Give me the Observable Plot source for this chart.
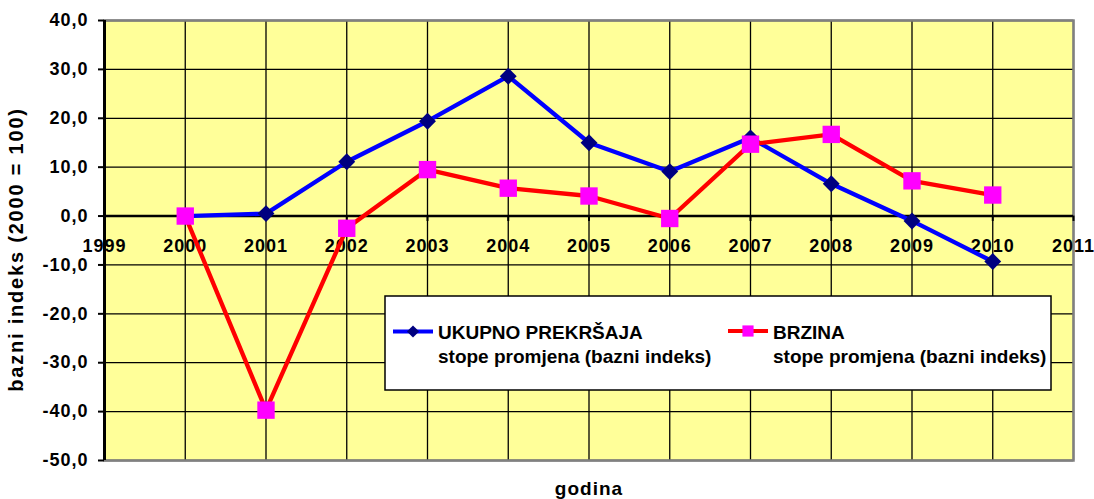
<!DOCTYPE html>
<html>
<head>
<meta charset="utf-8">
<script src="https://cdn.jsdelivr.net/npm/d3@7"></script>
<script src="https://cdn.jsdelivr.net/npm/@observablehq/plot@0.6"></script>
<style>
  html, body { margin: 0; padding: 0; background: white; }
  #chart { position: relative; width: 1094px; height: 499px; }
</style>
</head>
<body>
<div id="chart"></div>
<script>
// ---- data ----
const years = [2000, 2001, 2002, 2003, 2004, 2005, 2006, 2007, 2008, 2009, 2010];
const ukupno = [0, 0.5, 11.1, 19.4, 28.6, 15.0, 9.1, 16.0, 6.6, -1.0, -9.3];
const brzina = [0, -39.7, -2.5, 9.5, 5.7, 4.1, -0.5, 14.7, 16.7, 7.2, 4.3];
const xTicks = [1999, 2000, 2001, 2002, 2003, 2004, 2005, 2006, 2007, 2008, 2009, 2010, 2011];
const yTicks = [-50, -40, -30, -20, -10, 0, 10, 20, 30, 40];
const seriesNames = ["UKUPNO PREKRŠAJA", "BRZINA"];
const seriesSub = "stope promjena (bazni indeks)";
const yTitle = "bazni indeks (2000 = 100)";
const xTitle = "godina";

const rowsU = years.map((y, i) => ({year: y, value: ukupno[i]}));
const rowsB = years.map((y, i) => ({year: y, value: brzina[i]}));
const fmt = d => d.toFixed(1).replace(".", ",");

const font = "'Liberation Sans', Arial, sans-serif";

const chart = Plot.plot({
  width: 1094,
  height: 499,
  marginLeft: 104,
  marginRight: 21,
  marginTop: 20,
  marginBottom: 39,
  style: {fontFamily: font, background: "white", color: "black"},
  x: {domain: [1999, 2011], axis: null},
  y: {domain: [-50, 40], axis: null},
  marks: [
    Plot.frame({fill: "#FFFF99", stroke: null}),
    Plot.gridX(xTicks, {stroke: "black", strokeOpacity: 1, strokeWidth: 1.3}),
    Plot.gridY(yTicks, {stroke: "black", strokeOpacity: 1, strokeWidth: 1.3}),
    Plot.frame({stroke: "#808080", strokeWidth: 2.5}),
    Plot.ruleX([1999], {stroke: "black", strokeWidth: 3}),
    Plot.ruleY([0], {stroke: "black", strokeWidth: 2.5}),
    Plot.ruleX(xTicks, {x: d => d, y1: 0, y2: -1.1, stroke: "black", strokeWidth: 2}),
    Plot.axisY(yTicks, {
      anchor: "left", tickSize: 6, tickPadding: 10, strokeWidth: 2,
      tickFormat: fmt, fontSize: 18, fontWeight: "bold", label: null
    }),
    Plot.text(xTicks, {
      x: d => d, y: () => 0, text: d => String(d), dy: 30,
      fontSize: 18, fontWeight: "bold", fill: "black"
    }),
    Plot.text([yTitle], {
      frameAnchor: "left", textAnchor: "middle", lineAnchor: "middle",
      dx: -88, dy: 9, rotate: -90,
      fontSize: 20, fontWeight: "bold", fill: "black"
    }),
    Plot.text([xTitle], {
      frameAnchor: "bottom", textAnchor: "middle", lineAnchor: "middle",
      dy: 28, fontSize: 19, fontWeight: "bold", fill: "black"
    }),
    Plot.line(rowsU, {x: "year", y: "value", stroke: "#0000FF", strokeWidth: 4.3}),
    Plot.dot(rowsU, {x: "year", y: "value", symbol: "diamond2", r: 7.6, fill: "#000080", stroke: null}),
    Plot.line(rowsB, {x: "year", y: "value", stroke: "#FF0000", strokeWidth: 4.3}),
    Plot.dot(rowsB, {x: "year", y: "value", symbol: "square", r: 9.8, fill: "#FF00FF", stroke: null})
  ]
});

document.getElementById("chart").appendChild(chart);

// letter spacing to mimic the original rendering
const svg = d3.select(chart);
svg.selectAll("g[aria-label='y-axis tick label'] text").style("letter-spacing", "1px");
svg.selectAll("g[aria-label='text'] text").style("letter-spacing", "1px");
svg.selectAll("g[aria-label='text'] text").filter(function() { return this.textContent === yTitle; })
  .style("letter-spacing", "1.8px");

// ---- legend box (inside plot area) ----
const lg = svg.append("g").attr("font-family", font).attr("font-weight", "bold")
  .attr("font-size", 19).attr("text-anchor", "start");
lg.append("rect").attr("x", 385).attr("y", 296).attr("width", 666).attr("height", 94)
  .attr("fill", "white").attr("stroke", "black").attr("stroke-width", 1.5);

const entries = [
  {name: seriesNames[0], line: "#0000FF", mark: "#000080", sym: d3.symbolDiamond2, size: 95, x0: 393, tx: 438, cy: 331.5},
  {name: seriesNames[1], line: "#FF0000", mark: "#FF00FF", sym: d3.symbolSquare, size: 125, x0: 728, tx: 773, cy: 331}
];
for (const e of entries) {
  lg.append("line").attr("x1", e.x0).attr("x2", e.x0 + 40).attr("y1", e.cy).attr("y2", e.cy)
    .attr("stroke", e.line).attr("stroke-width", 4);
  lg.append("path").attr("d", d3.symbol(e.sym, e.size)())
    .attr("transform", `translate(${e.x0 + 20},${e.cy})`).attr("fill", e.mark);
  lg.append("text").attr("x", e.tx).attr("y", 339).attr("fill", "black").attr("text-anchor", "start").text(e.name);
  lg.append("text").attr("x", e.tx).attr("y", 363).attr("fill", "black").attr("text-anchor", "start").text(seriesSub);
}
</script>
</body>
</html>
